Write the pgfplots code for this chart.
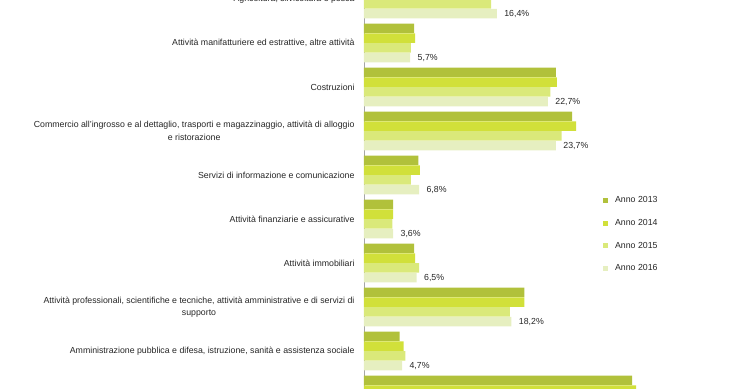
\documentclass[border=0pt]{standalone}
\usepackage{fontspec}
\setmainfont{Liberation Sans}
\usepackage{pgfplots}
\pgfplotsset{compat=1.18}
\definecolor{c13}{HTML}{B1C13B}
\definecolor{c14}{HTML}{D1E03A}
\definecolor{c15}{HTML}{DAE97A}
\definecolor{c16}{HTML}{E6EFC0}
\definecolor{txt}{HTML}{262626}
\begin{document}
\begin{tikzpicture}
\useasboundingbox (0,0) rectangle (740bp,389bp);
\clip (0,0) rectangle (740bp,389bp);
\begin{axis}[
  anchor=origin, at={(364bp,390bp)},
  x=8.1bp, y=44bp, y dir=reverse,
  xmin=0, xmax=45, ymin=-0.5, ymax=9.5,
  xbar, bar width=9.3bp,
  axis x line=none, axis y line*=left,
  y axis line style={-, draw=black!35, line width=0.8bp},
  ytick={0,...,9},
  ytick style={draw=none}, major tick length=0pt,
  yticklabels={
    {Agricoltura, silvicoltura e pesca},
    {Attività manifatturiere ed estrattive, altre attività},
    {Costruzioni},
    {Commercio all'ingrosso e al dettaglio, trasporti e magazzinaggio, attività di alloggio\\e ristorazione},
    {Servizi di informazione e comunicazione},
    {Attività finanziarie e assicurative},
    {Attività immobiliari},
    {Attività professionali, scientifiche e tecniche, attività amministrative e di servizi di\\supporto},
    {Amministrazione pubblica e difesa, istruzione, sanità e assistenza sociale},
    {Altre attività di servizi}},
  yticklabel style={font=\fontsize{8.8}{12.5}\selectfont, align=center, text=txt, xshift=-6bp},
  /pgf/number format/assume math mode=true,
  legend style={draw=none, fill=none, at={(axis cs:29.13,4.423)}, anchor=north west,
    font=\fontsize{8.8}{10}\selectfont, text=txt, row sep=13bp, column sep=6bp, nodes={inner sep=1bp}},
  legend cell align=left,
  legend image code/.code={\fill[#1] (0bp,-2.5bp) rectangle (5bp,2.5bp);},
]
\addplot[fill=c13, draw=none, bar shift=14.625bp] coordinates {(16.0,0)(6.2,1)(23.7,2)(25.7,3)(6.7,4)(3.6,5)(6.2,6)(19.8,7)(4.4,8)(33.1,9)};
\addplot[fill=c14, draw=none, bar shift=4.875bp] coordinates {(16.3,0)(6.3,1)(23.8,2)(26.2,3)(6.9,4)(3.6,5)(6.3,6)(19.8,7)(4.9,8)(33.6,9)};
\addplot[fill=c15, draw=none, bar shift=-4.875bp] coordinates {(15.7,0)(5.8,1)(23.0,2)(24.4,3)(5.8,4)(3.5,5)(6.8,6)(18.0,7)(5.1,8)(32.5,9)};
\addplot[fill=c16, draw=none, bar shift=-14.625bp, point meta=x,
  nodes near coords={\pgfmathprintnumber[fixed,fixed zerofill,precision=1,use comma]{\pgfplotspointmeta}\%},
  nodes near coords style={font=\fontsize{8.8}{10}\selectfont, text=txt, anchor=west, xshift=4bp}]
  coordinates {(16.4,0)(5.7,1)(22.7,2)(23.7,3)(6.8,4)(3.6,5)(6.5,6)(18.2,7)(4.7,8)(32.0,9)};
\legend{Anno 2013, Anno 2014, Anno 2015, Anno 2016}
\end{axis}
\end{tikzpicture}
\end{document}
